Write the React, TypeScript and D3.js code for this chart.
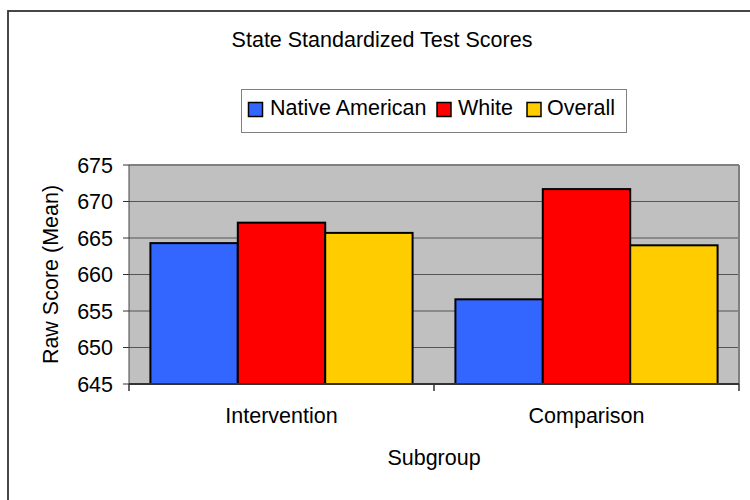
import React from "react";
import * as d3 from "d3";

const categories = ["Intervention", "Comparison"];
const seriesNames = ["Native American", "White", "Overall"];
const seriesColors = ["#3366FF", "#FF0000", "#FFCC00"];
const nativeAmerican = [664.3, 656.6];
const white = [667.1, 671.7];
const overall = [665.7, 664.0];
const yTicks = [645, 650, 655, 660, 665, 670, 675];

const W = 750;
const H = 500;
const FONT = "'Liberation Sans', Arial, sans-serif";
const FS = 21.5;

export default function App() {
  const plot = { left: 129, right: 739, top: 165, bottom: 384 };
  const x = d3.scaleBand<string>().domain(categories).range([plot.left, plot.right]).padding(0);
  const y = d3.scaleLinear().domain([645, 675]).range([plot.bottom, plot.top]);
  const inner = d3
    .scaleBand<string>()
    .domain(seriesNames)
    .range([0, x.bandwidth()])
    .paddingOuter(0.245)
    .paddingInner(0);
  const series = [nativeAmerican, white, overall];
  const xTickPositions = [plot.left, ...categories.map((c) => (x(c) as number) + x.bandwidth())];

  const legendItems = [
    { name: seriesNames[0], sx: 248.5, tx: 270 },
    { name: seriesNames[1], sx: 437, tx: 458 },
    { name: seriesNames[2], sx: 527, tx: 547 },
  ];

  return (
    <svg
      width={W}
      height={H}
      style={{ position: "absolute", left: 0, top: 0, background: "#fff" }}
      fontFamily={FONT}
    >
      <rect x={0} y={0} width={W} height={H} fill="#fff" />
      {/* outer frame */}
      <rect x={8} y={11} width={780} height={540} fill="#fff" stroke="#333" strokeWidth={1.8} />

      {/* title */}
      <text x={382} y={46.5} textAnchor="middle" fontSize={FS} fill="#000">
        State Standardized Test Scores
      </text>

      {/* legend */}
      <rect x={241.5} y={89.5} width={385} height={43} fill="#fff" stroke="#808080" strokeWidth={1} />
      {legendItems.map((it, i) => (
        <g key={it.name}>
          <rect x={it.sx} y={102.5} width={14} height={14} fill={seriesColors[i]} stroke="#000" strokeWidth={1.5} />
          <text x={it.tx} y={115} fontSize={FS} fill="#000">
            {it.name}
          </text>
        </g>
      ))}

      {/* plot background */}
      <rect x={plot.left} y={plot.top} width={plot.right - plot.left} height={plot.bottom - plot.top} fill="#C0C0C0" />
      {/* gridlines */}
      {yTicks.slice(1, -1).map((t) => (
        <line key={t} x1={plot.left} x2={plot.right} y1={y(t)} y2={y(t)} stroke="#555" strokeWidth={1} />
      ))}
      {/* plot border top/right */}
      <line x1={plot.left} x2={plot.right} y1={plot.top} y2={plot.top} stroke="#808080" strokeWidth={2} />
      <line x1={plot.right} x2={plot.right} y1={plot.top} y2={plot.bottom} stroke="#808080" strokeWidth={2} />

      {/* bars */}
      {categories.map((c, ci) => (
        <g key={c} transform={`translate(${x(c)},0)`}>
          {series.map((s, si) => (
            <rect
              key={si}
              x={inner(seriesNames[si])}
              y={y(s[ci])}
              width={inner.bandwidth()}
              height={plot.bottom - y(s[ci])}
              fill={seriesColors[si]}
              stroke="#000"
              strokeWidth={2}
            />
          ))}
        </g>
      ))}

      {/* y axis */}
      <line x1={plot.left} x2={plot.left} y1={plot.top} y2={plot.bottom} stroke="#444" strokeWidth={1} />
      {yTicks.map((t) => (
        <g key={t}>
          <line x1={123} x2={plot.left} y1={y(t)} y2={y(t)} stroke="#333" strokeWidth={1} />
          <text x={113} y={y(t)} dy="0.36em" textAnchor="end" fontSize={FS} fill="#000">
            {t}
          </text>
        </g>
      ))}
      <text
        transform={`translate(57.5,${(plot.top + plot.bottom) / 2}) rotate(-90)`}
        textAnchor="middle"
        fontSize={FS}
        fill="#000"
      >
        Raw Score (Mean)
      </text>

      {/* x axis */}
      <line x1={plot.left} x2={plot.right} y1={plot.bottom} y2={plot.bottom} stroke="#333" strokeWidth={2} />
      {xTickPositions.map((p, i) => (
        <line key={i} x1={p} x2={p} y1={plot.bottom} y2={plot.bottom + 7} stroke="#333" strokeWidth={1.5} />
      ))}
      {categories.map((c) => (
        <text key={c} x={(x(c) as number) + x.bandwidth() / 2} y={423} textAnchor="middle" fontSize={FS} fill="#000">
          {c}
        </text>
      ))}
      <text x={(plot.left + plot.right) / 2} y={465} textAnchor="middle" fontSize={FS} fill="#000">
        Subgroup
      </text>
    </svg>
  );
}
